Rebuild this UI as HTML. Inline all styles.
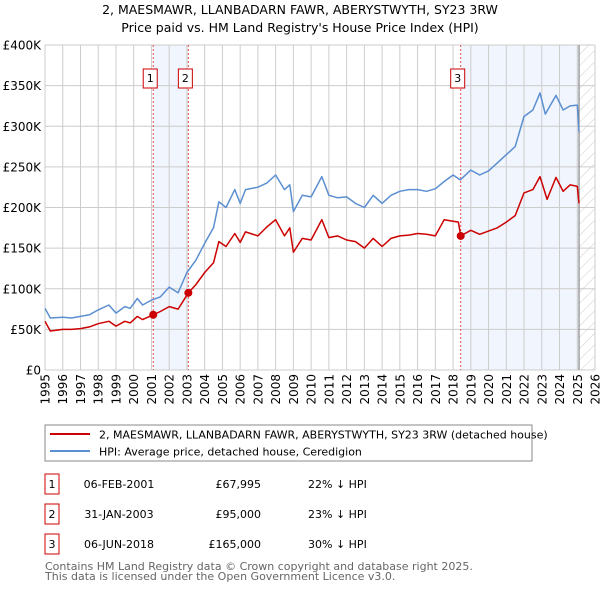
<!DOCTYPE html>
<html><head><meta charset="utf-8"><style>
body{margin:0;background:#fff;font-family:"Liberation Sans","DejaVu Sans",sans-serif;}
svg text{font-family:"DejaVu Sans","Liberation Sans",sans-serif;}
</style></head><body>
<svg id="chart" width="600" height="590" xmlns="http://www.w3.org/2000/svg">
<defs><pattern id="hatch" width="8" height="8" patternUnits="userSpaceOnUse" patternTransform="rotate(45)"><line x1="0" y1="0" x2="0" y2="8" stroke="#ccc" stroke-width="1"/></pattern></defs>
<text x="300" y="14" text-anchor="middle" font-size="12.5">2, MAESMAWR, LLANBADARN FAWR, ABERYSTWYTH, SY23 3RW</text>
<text x="300" y="32" text-anchor="middle" font-size="12.5">Price paid vs. HM Land Registry's House Price Index (HPI)</text>
<g id="plot"></g>
<rect x="45" y="425" width="487" height="36" fill="#fff" stroke="#888"/>
<line x1="50" y1="434" x2="90" y2="434" stroke="#cc0000" stroke-width="2"/>
<text x="99" y="438.5" font-size="11">2, MAESMAWR, LLANBADARN FAWR, ABERYSTWYTH, SY23 3RW (detached house)</text>
<line x1="50" y1="451" x2="90" y2="451" stroke="#5b8fd1" stroke-width="2"/>
<text x="99" y="455.5" font-size="11">HPI: Average price, detached house, Ceredigion</text>
<g id="table" font-size="11"></g>
<text x="45" y="570" font-size="11" fill="#666">Contains HM Land Registry data © Crown copyright and database right 2025.</text>
<text x="45" y="580" font-size="11" fill="#666">This data is licensed under the Open Government Licence v3.0.</text>
</svg>
<script>
const hpiYears=[1995,1995.3,1996,1996.5,1997,1997.5,1998,1998.6,1999,1999.5,1999.8,2000.2,2000.5,2001,2001.5,2002,2002.5,2003,2003.5,2004,2004.5,2004.8,2005.2,2005.7,2006,2006.3,2007,2007.5,2008,2008.5,2008.8,2009,2009.5,2010,2010.6,2011,2011.5,2012,2012.5,2013,2013.5,2014,2014.5,2015,2015.5,2016,2016.5,2017,2017.5,2018,2018.4,2019,2019.5,2020,2020.5,2021,2021.5,2022,2022.5,2022.9,2023.2,2023.8,2024.2,2024.6,2025,2025.1];
const hpiValues=[76,64,65,64,66,68,74,80,70,78,76,88,80,86,90,102,95,120,135,156,175,207,200,222,205,222,225,230,240,222,228,195,215,213,238,215,212,213,205,200,215,205,215,220,222,222,220,223,232,240,234,246,240,245,255,265,275,312,320,341,315,338,320,325,326,293];
const ppYears=[1995,1995.3,1996,1996.5,1997,1997.5,1998,1998.6,1999,1999.5,1999.8,2000.2,2000.5,2001.1,2001.5,2002,2002.5,2003.08,2003.5,2004,2004.5,2004.8,2005.2,2005.7,2006,2006.3,2007,2007.5,2008,2008.5,2008.8,2009,2009.5,2010,2010.6,2011,2011.5,2012,2012.5,2013,2013.5,2014,2014.5,2015,2015.5,2016,2016.5,2017,2017.5,2018.3,2018.43,2019,2019.5,2020,2020.5,2021,2021.5,2022,2022.5,2022.9,2023.3,2023.8,2024.2,2024.6,2025,2025.1];
const ppValues=[60,48,50,50,51,53,57,60,54,60,58,66,62,68,72,78,75,95,105,120,132,158,152,168,157,170,165,176,185,165,175,145,162,160,185,163,165,160,158,150,162,152,162,165,166,168,167,165,185,182,165,172,167,171,175,182,190,218,222,238,210,237,220,228,226,205];
const yTicks=[0,50,100,150,200,250,300,350,400];
const yTickLabels=["£0","£50K","£100K","£150K","£200K","£250K","£300K","£350K","£400K"];
const xTicks=[1995,1996,1997,1998,1999,2000,2001,2002,2003,2004,2005,2006,2007,2008,2009,2010,2011,2012,2013,2014,2015,2016,2017,2018,2019,2020,2021,2022,2023,2024,2025,2026];
const saleYears=[2001.1,2003.08,2018.43];
const saleValues=[67.995,95,165];
const saleLabels=["1","2","3"];
const saleDates=["06-FEB-2001","31-JAN-2003","06-JUN-2018"];
const salePrices=["£67,995","£95,000","£165,000"];
const saleDiffs=["22% ↓ HPI","23% ↓ HPI","30% ↓ HPI"];
const dataEnd=2025.1;

const L=45,R=595,T=45,B=370;
const X=y=>L+(y-1995)*(R-L)/31;
const Y=v=>B-v*(B-T)/400;
const NS="http://www.w3.org/2000/svg";
const plot=document.getElementById('plot');
function mk(tag,at,parent){const e=document.createElementNS(NS,tag);for(const k in at)e.setAttribute(k,at[k]);(parent||plot).appendChild(e);return e;}

let r=mk('rect',{x:X(saleYears[0]),y:T,width:X(saleYears[1])-X(saleYears[0]),height:B-T,fill:'#eef3fc',opacity:0.8});


r=mk('rect',{x:X(saleYears[2]),y:T,width:X(dataEnd)-X(saleYears[2]),height:B-T,fill:'#eef3fc',opacity:0.8});


r=mk('rect',{x:X(dataEnd),y:T,width:R-X(dataEnd),height:B-T,fill:'url(#hatch)'});



yTicks.forEach((v,i)=>{
  let g=mk('line',{x1:L,x2:R,y1:Y(v),y2:Y(v),stroke:'#ccc','stroke-width':1});
  
  
  let t=mk('text',{x:L-4,y:Y(v)+4.5,'text-anchor':'end','font-size':12});
  t.textContent=yTickLabels[i];
  
  
});
xTicks.forEach(yr=>{
  let g=mk('line',{x1:X(yr),x2:X(yr),y1:T,y2:B,stroke:'#ccc','stroke-width':1});
  
  
  let t=mk('text',{x:0,y:0,'text-anchor':'end','font-size':12,transform:`translate(${X(yr)+4.5},${B+4}) rotate(-90)`});
  t.textContent=yr;
  
  
});
let ln=mk('line',{x1:X(dataEnd),x2:X(dataEnd),y1:T,y2:B,stroke:'#888','stroke-width':1.2});



saleYears.forEach((yr,i)=>{
  let d=mk('line',{x1:X(yr),x2:X(yr),y1:T,y2:B,stroke:'#e05050','stroke-width':1,'stroke-dasharray':'2,2'});
  
  
});

function poly(xs,vs,color,name){
  const p=mk('polyline',{points:xs.map((x,i)=>X(x).toFixed(1)+','+Y(vs[i]).toFixed(1)).join(' '),fill:'none',stroke:color,'stroke-width':1.5,'stroke-linejoin':'round'});
  
  
}
poly(hpiYears,hpiValues,'#5b8fd1','hpi-line');
poly(ppYears,ppValues,'#cc0000','price-paid-line');

saleYears.forEach((yr,i)=>{
  let c=mk('circle',{cx:X(yr),cy:Y(saleValues[i]),r:4,fill:'#cc0000'});
  
  
  let bx=mk('rect',{x:X(yr)-10,y:69,width:14,height:19,fill:'#fff',stroke:'#cc0000'});
  
  
  let t=mk('text',{x:X(yr)-3,y:82,'text-anchor':'middle','font-size':11});
  t.textContent=saleLabels[i];
  
  
});

const tb=document.getElementById('table');
saleYears.forEach((yr,i)=>{
  const y=483+i*30;
  let b=mk('rect',{x:45,y:y-9,width:14,height:20,fill:'#fff',stroke:'#cc0000'},tb);
  
  
  const cells=[[52,'middle',saleLabels[i]],[119,'middle',saleDates[i]],[261,'end',salePrices[i]],[308,'start',saleDiffs[i]]];
  cells.forEach(c=>{
    let t=mk('text',{x:c[0],y:y+5,'text-anchor':c[1]},tb);
    t.textContent=c[2];
    
    
  });
});
</script>
</body></html>
